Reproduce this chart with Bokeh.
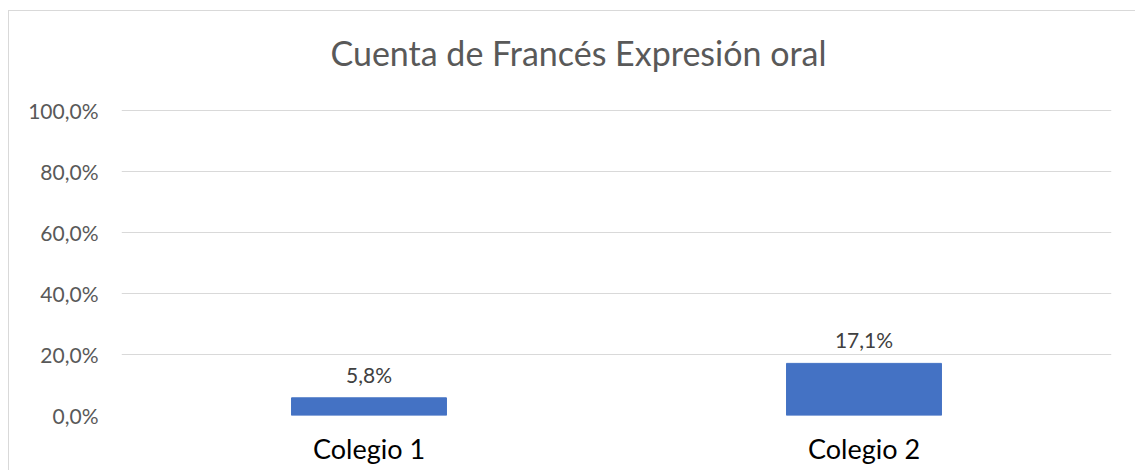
from bokeh.plotting import figure
from bokeh.models import FactorRange, Range1d, FixedTicker, CustomJSTickFormatter, Label, ColumnDataSource, LabelSet
from bokeh.core.properties import value
from bokeh.embed import file_html
from bokeh.resources import INLINE

categories = ["Colegio 1", "Colegio 2"]
values = [0.058, 0.171]
y_ticks = [0.0, 0.2, 0.4, 0.6, 0.8, 1.0]
title_text = "Cuenta de Francés Expresión oral"

FONT = "Lato"

labels = [("%.1f" % (v * 100)).replace(".", ",") + "%" for v in values]
src = ColumnDataSource(dict(x=categories, top=values, lab=labels))

# frame extends above the 100% line so the title (drawn as a Label) stays inside it
p = figure(x_range=FactorRange(*categories, range_padding=0), y_range=Range1d(0, 1.3123),
           width=1127, height=460, output_backend="svg", toolbar_location=None,
           min_border_left=112, min_border_right=25, min_border_top=4, min_border_bottom=56)
p.margin = (10, 0, 0, 8)
p.styles = {"border-top": "1px solid #d9d9d9", "border-left": "1px solid #d9d9d9"}
p.outline_line_color = None
p.background_fill_color = "white"
p.border_fill_color = "white"

p.vbar(x="x", top="top", width=0.313, source=src, color="#4472C4")

p.add_layout(LabelSet(x="x", y="top", text="lab", source=src, y_offset=11,
                      text_align="center", text_baseline="bottom",
                      text_font=value(FONT), text_font_size="21px", text_color="#404040"))

p.yaxis.ticker = FixedTicker(ticks=y_ticks)
p.yaxis.formatter = CustomJSTickFormatter(code="return (tick*100).toFixed(1).replace('.', ',') + '%';")
p.yaxis.axis_line_color = None
p.yaxis.major_tick_line_color = None
p.yaxis.minor_tick_line_color = None
p.yaxis.major_tick_out = 0
p.yaxis.major_label_standoff = 23
p.yaxis.major_label_text_font = FONT
p.yaxis.major_label_text_font_size = "21px"
p.yaxis.major_label_text_color = "#595959"

p.xaxis.axis_line_color = None
p.xaxis.major_tick_line_color = None
p.xaxis.major_tick_out = 0
p.xaxis.major_label_standoff = 16
p.xaxis.major_label_text_font = FONT
p.xaxis.major_label_text_font_size = "27px"
p.xaxis.major_label_text_color = "#000000"

p.xgrid.grid_line_color = None
p.ygrid.grid_line_color = "#d9d9d9"
p.ygrid.grid_line_width = 1

p.add_layout(Label(x=457, x_units="screen", y=1.191, y_units="data", text=title_text,
                   text_align="center", text_baseline="middle",
                   text_font=FONT, text_font_size="34px", text_color="#595959"))

open("out.html", "w").write(file_html(p, INLINE))
